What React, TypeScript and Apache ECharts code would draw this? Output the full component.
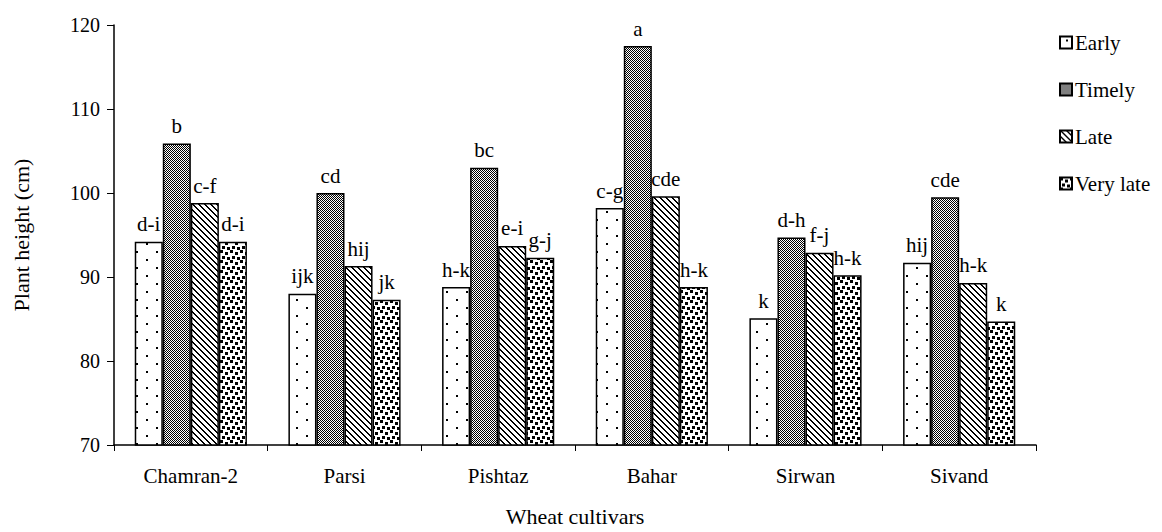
import React, { useEffect, useRef } from "react";
import * as echarts from "echarts";

const categories = ["Chamran-2", "Parsi", "Pishtaz", "Bahar", "Sirwan", "Sivand"];
const seriesNames = ["Early", "Timely", "Late", "Very late"];
const early = [94.2, 88.0, 88.8, 98.2, 85.1, 91.7];
const timely = [105.9, 100.0, 103.0, 117.5, 94.7, 99.5];
const late = [98.8, 91.3, 93.7, 99.6, 92.9, 89.3];
const veryLate = [94.2, 87.3, 92.3, 88.8, 90.2, 84.7];
const earlyLetters = ["d-i", "ijk", "h-k", "c-g", "k", "hij"];
const timelyLetters = ["b", "cd", "bc", "a", "d-h", "cde"];
const lateLetters = ["c-f", "hij", "e-i", "cde", "f-j", "h-k"];
const veryLateLetters = ["d-i", "jk", "g-j", "h-k", "h-k", "k"];

const FONT = "'Liberation Serif', 'Times New Roman', serif";

function makeTile(w: number, h: number, draw: (ctx: CanvasRenderingContext2D) => void) {
  const c = document.createElement("canvas");
  c.width = w;
  c.height = h;
  const ctx = c.getContext("2d")!;
  ctx.fillStyle = "#fff";
  ctx.fillRect(0, 0, w, h);
  ctx.fillStyle = "#000";
  draw(ctx);
  return { image: c, repeat: "repeat", imageWidth: w, imageHeight: h } as any;
}

function patterns() {
  const dots = makeTile(20, 16, (ctx) => {
    ctx.fillRect(6, 3, 2, 2);
    ctx.fillRect(16, 11, 2, 2);
  });
  const checker = makeTile(2, 2, (ctx) => {
    ctx.fillRect(0, 0, 1, 1);
    ctx.fillRect(1, 1, 1, 1);
  });
  const diag = makeTile(6, 6, (ctx) => {
    for (let i = 0; i < 6; i++) {
      ctx.fillRect(i, i, 2, 1);
    }
    ctx.fillRect(0, 5, 1, 1);
  });
  const confetti = makeTile(10, 10, (ctx) => {
    ctx.fillRect(0, 0, 3, 3);
    ctx.fillRect(5, 2, 3, 3);
    ctx.fillRect(2, 6, 3, 3);
    ctx.fillRect(7, 7, 3, 3);
  });
  return [dots, checker, diag, confetti];
}

export default function App() {
  const ref = useRef<HTMLDivElement>(null);
  useEffect(() => {
    if (!ref.current) return;
    const chart = echarts.init(ref.current, undefined, { renderer: "svg" });
    const pats = patterns();
    const values = [early, timely, late, veryLate];
    const letters = [earlyLetters, timelyLetters, lateLetters, veryLateLetters];
    chart.setOption({
      animation: false,
      backgroundColor: "#fff",
      textStyle: { fontFamily: FONT, color: "#000" },
      legend: {
        orient: "vertical",
        left: 1054,
        top: 27,
        itemGap: 26,
        itemWidth: 12,
        itemHeight: 12,
        icon: "rect",
        textStyle: { fontFamily: FONT, fontSize: 21, color: "#000", padding: [0, 0, 0, -2] },
        data: seriesNames,
      },
      grid: { left: 114, right: 126, top: 25, bottom: 73, containLabel: false },
      xAxis: {
        type: "category",
        data: categories,
        name: "Wheat cultivars",
        nameLocation: "middle",
        nameGap: 60,
        nameTextStyle: { fontFamily: FONT, fontSize: 22, color: "#000" },
        axisLine: { lineStyle: { color: "#000", width: 1.5 } },
        axisTick: { show: true, length: 6, lineStyle: { color: "#000" } },
        axisLabel: { fontFamily: FONT, fontSize: 21, color: "#000", margin: 20 },
      },
      yAxis: {
        type: "value",
        min: 70,
        max: 120,
        interval: 10,
        name: "Plant height (cm)",
        nameLocation: "middle",
        nameGap: 82,
        nameTextStyle: { fontFamily: FONT, fontSize: 22, color: "#000" },
        axisLine: { show: true, lineStyle: { color: "#000", width: 1.5 } },
        axisTick: { show: true, length: 7, lineStyle: { color: "#000" } },
        axisLabel: { fontFamily: FONT, fontSize: 20, color: "#000", margin: 14 },
        splitLine: { show: false },
      },
      series: seriesNames.map((name, si) => ({
        name,
        type: "bar",
        data: values[si],
        barGap: "0%",
        barCategoryGap: "27%",
        itemStyle: { color: pats[si], borderColor: "#000", borderWidth: 1.5 },
        label: {
          show: true,
          position: "top",
          distance: 7,
          fontFamily: FONT,
          fontSize: 21,
          color: "#000",
          formatter: (p: any) => letters[si][p.dataIndex],
        },
      })),
    });
    return () => chart.dispose();
  }, []);
  return <div ref={ref} style={{ width: 1162, height: 532, margin: -8 }} />;
}
